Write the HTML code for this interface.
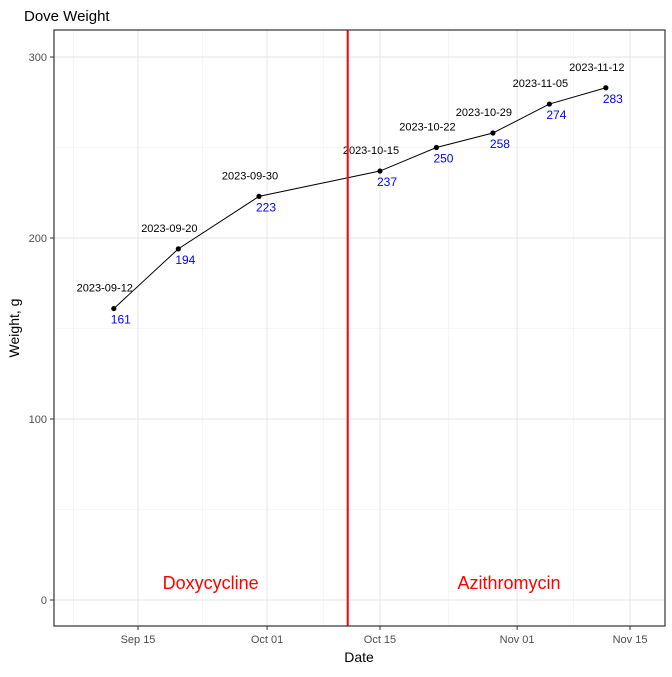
<!DOCTYPE html>
<html><head><meta charset="utf-8"><style>
body{margin:0;background:#fff;font-family:"Liberation Sans",Arial,sans-serif}
</style></head><body>
<svg id="chart" width="672" height="672" xmlns="http://www.w3.org/2000/svg" font-family="Liberation Sans, Arial, sans-serif">
<text x="24" y="21" font-size="15" fill="#000">Dove Weight</text>
<g id="grid"></g>
<g id="marks"></g>
<rect x="54" y="30" width="611" height="596" fill="none" stroke="#333" stroke-width="1.2"/>
<g id="axes"></g>
<text x="359" y="662" font-size="14" text-anchor="middle">Date</text>
<text transform="translate(19,328) rotate(-90)" font-size="14" text-anchor="middle">Weight, g</text>
</svg>
<script>
const dates = ["2023-09-12","2023-09-20","2023-09-30","2023-10-15","2023-10-22","2023-10-29","2023-11-05","2023-11-12"];
const weights = [161,194,223,237,250,258,274,283];
const yTicks = [0,100,200,300];
const xTickDates = ["2023-09-15","2023-10-01","2023-10-15","2023-11-01","2023-11-15"];
const xTickLabels = ["Sep 15","Oct 01","Oct 15","Nov 01","Nov 15"];
const treatmentChange = "2023-10-11";
const treatments = ["Doxycycline","Azithromycin"];
const treatmentLabelDates = ["2023-09-24","2023-10-31"];

const NS="http://www.w3.org/2000/svg";
const day0=Date.UTC(2023,8,15);
function dnum(s){const p=s.split("-");return (Date.UTC(+p[0],+p[1]-1,+p[2])-day0)/86400000;}
function X(s){return 138+dnum(s)*8.066;}
function Y(v){return 600-v*1.81;}
function mk(tag,attrs,parent,text){const e=document.createElementNS(NS,tag);for(const k in attrs)e.setAttribute(k,attrs[k]);if(text!==undefined)e.textContent=text;parent.appendChild(e);return e;}
const grid=document.getElementById("grid"),marks=document.getElementById("marks"),axes=document.getElementById("axes");
for(let i=0;i<yTicks.length-1;i++){const v=(yTicks[i]+yTicks[i+1])/2;const l=mk("line",{x1:54,x2:665,y1:Y(v),y2:Y(v),stroke:"#f0f0f0","stroke-width":0.6},grid);

}
const xd=xTickDates.map(dnum);const minors=[xd[0]-(xd[1]-xd[0])/2];
for(let i=0;i<xd.length-1;i++)minors.push((xd[i]+xd[i+1])/2);
minors.forEach(d=>{const x=138+d*8.066;const l=mk("line",{x1:x,x2:x,y1:30,y2:626,stroke:"#f0f0f0","stroke-width":0.6},grid);

});
yTicks.forEach(v=>{const l=mk("line",{x1:54,x2:665,y1:Y(v),y2:Y(v),stroke:"#e6e6e6","stroke-width":1},grid);


const t=mk("text",{x:47,y:Y(v)+4,"font-size":11,"text-anchor":"end",fill:"#4d4d4d"},axes,String(v));


mk("line",{x1:50,x2:54,y1:Y(v),y2:Y(v),stroke:"#333"},axes);});
xTickDates.forEach((s,i)=>{const x=X(s);const l=mk("line",{x1:x,x2:x,y1:30,y2:626,stroke:"#e6e6e6","stroke-width":1},grid);


mk("line",{x1:x,x2:x,y1:626,y2:630,stroke:"#333"},axes);
const t=mk("text",{x:x,y:643,"font-size":11,"text-anchor":"middle",fill:"#4d4d4d"},axes,xTickLabels[i]);

});
const pl=mk("polyline",{points:dates.map((d,i)=>X(d)+","+Y(weights[i])).join(" "),fill:"none",stroke:"#000","stroke-width":1},marks);


dates.forEach((d,i)=>{const x=X(d),y=Y(weights[i]);
const c=mk("circle",{cx:x,cy:y,r:2.6,fill:"#000"},marks);


const t=mk("text",{x:x-9,y:y-17,"font-size":11,"text-anchor":"middle",fill:"#000"},marks,d);


const v=mk("text",{x:x-3,y:y+15,"font-size":12,fill:"#0000ff"},marks,String(weights[i]));

});
const vx=X(treatmentChange);
const vl=mk("line",{x1:vx,x2:vx,y1:30,y2:626,stroke:"#ff0000","stroke-width":2},marks);


treatments.forEach((t,i)=>{const e=mk("text",{x:X(treatmentLabelDates[i]),y:589,"font-size":18,"text-anchor":"middle",fill:"#ff0000"},marks,t);

});
</script>
</body></html>
